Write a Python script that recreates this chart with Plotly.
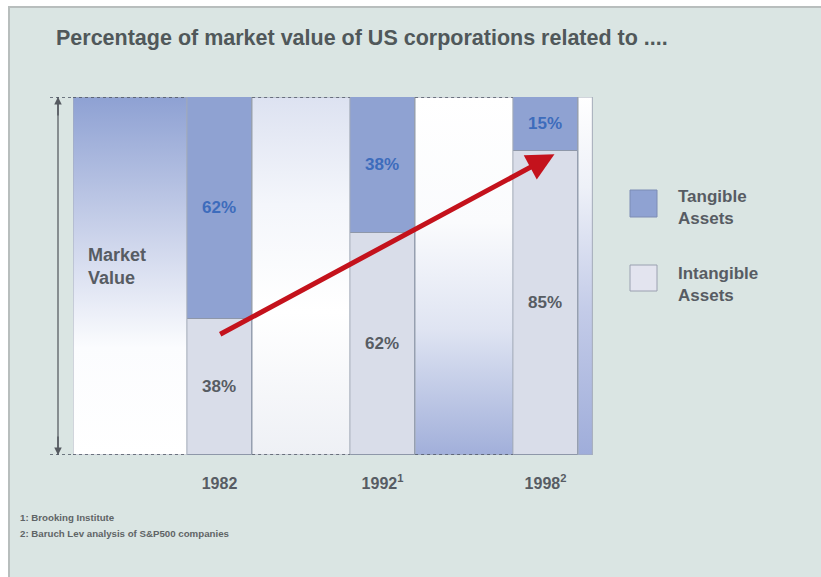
import plotly.graph_objects as go

# ---- data ----
years = ["1982", "1992<sup>1</sup>", "1998<sup>2</sup>"]
positions = [1, 2, 3]
tangible = [62, 38, 15]
intangible = [38, 62, 85]
footnotes = ["1: Brooking Institute", "2: Baruch Lev analysis of S&P500 companies"]

# ---- styling ----
BG = "#dae5e3"
TANG = "#8fa2d2"
INTANG = "#d9dde9"
EDGE = "#8e97a9"
BLUE_TXT = "#3d6cbc"
GRAY_TXT = "#575c63"
FONT = "Liberation Sans"
BAR_W = 0.4

W, H = 821, 577
L, R, T, B = 73, 228, 97, 122
X0, X1 = 0.1012, 3.2914          # visible x range (category units)


def px_x(px):
    """pixel column -> paper x"""
    return (px - L) / (W - L - R)


def px_y(py):
    """pixel row -> paper y"""
    return (H - B - py) / (H - T - B)


fig = go.Figure()

# background columns with vertical gradients
half = BAR_W / 2
columns = [
    (X0, positions[0] - half,
     [[0, "#ffffff"], [0.3, "#fbfcfe"], [0.62, "#cad2ea"], [1, "#8ea1d3"]]),
    (positions[0] + half, positions[1] - half,
     [[0, "#eef0f5"], [0.4, "#ffffff"], [0.7, "#f4f6fb"], [1, "#dde2f1"]]),
    (positions[1] + half, positions[2] - half,
     [[0, "#a1afda"], [0.35, "#dfe4f2"], [0.65, "#fafbfd"], [1, "#ffffff"]]),
    (positions[2] + half, X1 - 0.004,
     [[0, "#9fadda"], [0.4, "#c3cbe8"], [0.75, "#eef1f8"], [1, "#ffffff"]]),
]
for xa, xb, cs in columns:
    fig.add_trace(go.Scatter(
        x=[xa, xb, xb, xa, xa], y=[0, 0, 100, 100, 0],
        mode="lines", fill="toself",
        fillgradient=dict(type="vertical", colorscale=cs, start=0, stop=100),
        line=dict(color="#a3abb9", width=1),
        hoverinfo="skip", showlegend=False,
    ))

# stacked bars
fig.add_trace(go.Bar(
    x=positions, y=intangible, width=BAR_W, name="Intangible Assets",
    marker=dict(color=INTANG, line=dict(color=EDGE, width=1)),
    texttemplate="%{y}%", textposition="inside", insidetextanchor="middle",
    textfont=dict(family=FONT, size=17, color=GRAY_TXT, weight="bold"),
    showlegend=False,
))
fig.add_trace(go.Bar(
    x=positions, y=tangible, width=BAR_W, name="Tangible Assets",
    marker=dict(color=TANG, line=dict(color=EDGE, width=1)),
    texttemplate="%{y}%", textposition="inside", insidetextanchor="middle",
    textfont=dict(family=FONT, size=17, color=BLUE_TXT, weight="bold"),
    showlegend=False,
))

shapes = [
    # panel background with frame
    dict(type="rect", xref="paper", yref="paper",
         x0=px_x(9), x1=px_x(840), y0=px_y(7), y1=px_y(600),
         fillcolor=BG, line=dict(color="#b8bebd", width=2), layer="below"),
    # vertical market-value scale line
    dict(type="line", xref="paper", yref="y", x0=px_x(58), x1=px_x(58),
         y0=0, y1=100, line=dict(color="#6a6f75", width=1.5)),
]
# dashed guide lines at top and bottom
for yv in (0, 100):
    segs = [(px_x(50), px_x(73))]
    for xa, xb, _ in columns[:3]:
        segs.append(((xa - X0) / (X1 - X0), (xb - X0) / (X1 - X0)))
    for sa, sb in segs:
        shapes.append(dict(type="line", xref="paper", yref="y",
                           x0=sa, x1=sb, y0=yv, y1=yv, layer="above",
                           line=dict(color="#4a5160", width=1.5, dash="dot")))

# legend swatches
shapes.append(dict(type="rect", xref="paper", yref="paper",
                   x0=px_x(630), x1=px_x(657), y0=px_y(217), y1=px_y(190),
                   fillcolor=TANG, line=dict(color="#7c8cb4", width=1)))
shapes.append(dict(type="rect", xref="paper", yref="paper",
                   x0=px_x(630), x1=px_x(657), y0=px_y(291), y1=px_y(265),
                   fillcolor="#e3e4ef", line=dict(color="#9aa0b0", width=1)))

annotations = [
    dict(text="Percentage of market value of US corporations related to ....",
         xref="paper", yref="paper", x=px_x(54), y=px_y(38),
         xanchor="left", yanchor="middle", showarrow=False,
         font=dict(family=FONT, size=21.5, color="#50585a", weight="bold")),
    dict(text="Market<br>Value", xref="paper", yref="paper",
         x=px_x(86), y=px_y(266), xanchor="left", yanchor="middle",
         align="left", showarrow=False,
         font=dict(family=FONT, size=18, color=GRAY_TXT, weight="bold")),
    dict(text="Tangible<br>Assets", xref="paper", yref="paper",
         x=px_x(676), y=px_y(207), xanchor="left", yanchor="middle",
         align="left", showarrow=False,
         font=dict(family=FONT, size=17, color=GRAY_TXT, weight="bold")),
    dict(text="Intangible<br>Assets", xref="paper", yref="paper",
         x=px_x(676), y=px_y(284), xanchor="left", yanchor="middle",
         align="left", showarrow=False,
         font=dict(family=FONT, size=17, color=GRAY_TXT, weight="bold")),
    # scale arrowheads
    dict(x=px_x(58), y=100, xref="paper", yref="y", ax=0, ay=20,
         text="", showarrow=True, arrowhead=2, arrowsize=1, arrowwidth=1.5,
         arrowcolor="#555a60"),
    dict(x=px_x(58), y=0, xref="paper", yref="y", ax=0, ay=-20,
         text="", showarrow=True, arrowhead=2, arrowsize=1, arrowwidth=1.5,
         arrowcolor="#555a60"),
    # trend arrow from the 1982 intangible level to the 1998 level
    dict(x=3.055, y=intangible[2] - 1, xref="x", yref="y",
         ax=0.995, ay=intangible[0] - 4.5, axref="x", ayref="y",
         text="", showarrow=True, arrowhead=2, arrowsize=1.1, arrowwidth=5,
         arrowcolor="#c4121c"),
]
for i, note in enumerate(footnotes):
    annotations.append(dict(
        text=note, xref="paper", yref="paper", x=px_x(18), y=px_y(517 + 16 * i),
        xanchor="left", yanchor="middle", showarrow=False,
        font=dict(family=FONT, size=9.7, color="#5f6466", weight="bold")))

fig.update_layout(
    width=W, height=H,
    margin=dict(l=L, r=R, t=T, b=B, pad=0),
    paper_bgcolor="#ffffff", plot_bgcolor="rgba(0,0,0,0)",
    barmode="stack", bargap=0,
    shapes=shapes, annotations=annotations,
    xaxis=dict(range=[X0, X1], tickvals=positions, ticktext=years,
               showgrid=False, zeroline=False, showline=False, ticks="",
               ticklabelstandoff=17, fixedrange=True,
               tickfont=dict(family=FONT, size=16, color=GRAY_TXT, weight="bold")),
    yaxis=dict(range=[0, 100], visible=False, fixedrange=True),
    showlegend=False,
)

fig.write_html("out.html")
